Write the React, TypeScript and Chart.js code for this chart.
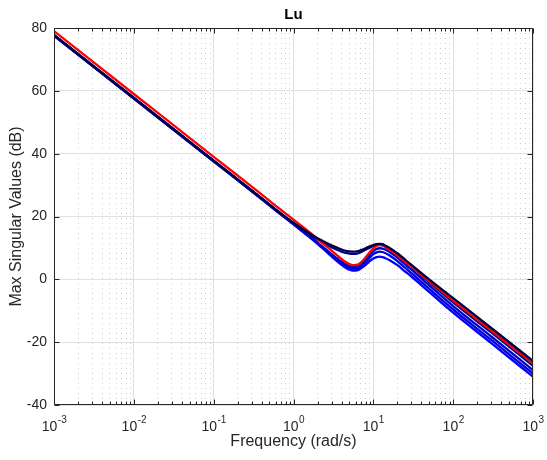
import React, { useEffect, useRef } from "react";
import { Chart, registerables } from "chart.js";

Chart.register(...registerables);

// ---------- data ----------
const FREQS = [0.001, 0.01, 0.1, 0.3, 0.6, 1, 1.5, 2, 2.5, 3, 3.5, 4, 4.5, 5, 5.5, 6, 6.5, 7, 8, 9, 10, 11, 12, 13, 14, 16, 18, 20, 25, 30, 50, 100, 300, 1000];

const NAVY = [77.7, 57.7, 37.7, 28.2, 22.2, 18.0, 15.0, 13.1, 11.8, 10.8, 10.1, 9.5, 9.1, 8.9, 8.8, 8.8, 9.0, 9.3, 9.9, 10.5, 10.9, 11.2, 11.3, 11.2, 10.8, 10.0, 9.1, 8.3, 6.3, 4.6, 0.0, -6.0, -15.5, -26.0];
const RED = [79.0, 59.0, 39.0, 29.5, 23.4, 19.0, 15.5, 12.9, 10.8, 9.1, 7.7, 6.5, 5.5, 4.9, 4.5, 4.5, 4.8, 5.4, 7.0, 8.6, 9.9, 10.7, 11.0, 10.9, 10.3, 9.4, 8.5, 7.6, 5.6, 4.1, -0.6, -6.8, -16.3, -26.8];
const DARKBLUE = [77.8, 57.8, 37.8, 28.3, 22.2, 17.9, 14.8, 12.7, 11.3, 10.2, 9.4, 8.8, 8.4, 8.2, 8.1, 8.1, 8.3, 8.7, 9.4, 10.1, 10.6, 10.9, 10.9, 10.8, 10.5, 9.7, 8.8, 7.9, 5.8, 4.1, -0.9, -7.3, -16.9, -27.5];
const BLUE_A = [77.7, 57.7, 37.7, 28.2, 22.1, 17.7, 14.2, 11.7, 9.7, 8.0, 6.7, 5.6, 4.7, 4.2, 3.9, 3.9, 4.2, 4.8, 6.3, 7.8, 9.0, 9.7, 9.9, 9.8, 9.5, 8.7, 7.8, 6.9, 4.8, 3.1, -1.9, -8.5, -18.2, -28.9];
const BLUE_B = [77.6, 57.6, 37.6, 28.1, 22.0, 17.6, 14.0, 11.5, 9.4, 7.6, 6.2, 5.1, 4.2, 3.6, 3.3, 3.3, 3.6, 4.1, 5.5, 6.9, 8.0, 8.6, 8.8, 8.7, 8.4, 7.6, 6.7, 5.8, 3.7, 2.0, -3.0, -9.6, -19.3, -30.0];
const BLUE_C = [77.5, 57.5, 37.5, 28.0, 21.9, 17.5, 13.9, 11.3, 9.1, 7.3, 5.8, 4.6, 3.7, 3.1, 2.8, 2.8, 3.0, 3.5, 4.6, 5.8, 6.6, 7.1, 7.2, 7.1, 6.8, 6.1, 5.3, 4.5, 2.5, 0.9, -4.0, -10.6, -20.3, -31.0];

const X_DECADES = [0.001, 0.01, 0.1, 1, 10, 100, 1000];
const X_TICK_BASE = "10";
const X_TICK_EXPONENTS = ["-3", "-2", "-1", "0", "1", "2", "3"];
const X_MINOR_MULTIPLIERS = [2, 3, 4, 5, 6, 7, 8, 9];
const Y_MIN = -40;
const Y_MAX = 80;
const Y_STEP = 20;

const TITLE = "Lu";
const X_LABEL = "Frequency (rad/s)";
const Y_LABEL = "Max Singular Values (dB)";

const FONT = "'Liberation Sans', Arial, Helvetica, sans-serif";
const AXIS_COLOR = "#262626";
const MAJOR_GRID = "#e0e0e0";
const MINOR_GRID = "#cdcdcd";

const isDecade = (v: number) => Math.abs(Math.log10(v) - Math.round(Math.log10(v))) < 1e-9;

const matlabAxes = {
  id: "matlabAxes",
  afterDatasetsDraw(chart: any) {
    const { ctx, chartArea } = chart;
    const { left, right, top, bottom } = chartArea;
    const xs = chart.scales.x;
    const ys = chart.scales.y;
    const L = Math.round(left) + 0.5;
    const R = Math.round(right) - 0.5;
    const T = Math.round(top) + 0.5;
    const B = Math.round(bottom) - 0.5;
    ctx.save();
    ctx.strokeStyle = AXIS_COLOR;
    ctx.lineWidth = 1;
    ctx.beginPath();
    ctx.rect(L, T, R - L, B - T);
    ctx.stroke();

    ctx.beginPath();
    xs.ticks.forEach((t: any) => {
      const px = Math.round(xs.getPixelForValue(t.value)) + 0.5;
      const len = isDecade(t.value) ? 5 : 3;
      ctx.moveTo(px, B);
      ctx.lineTo(px, B - len);
      ctx.moveTo(px, T);
      ctx.lineTo(px, T + len);
    });
    ys.ticks.forEach((t: any) => {
      const py = Math.round(ys.getPixelForValue(t.value)) + 0.5;
      ctx.moveTo(L, py);
      ctx.lineTo(L + 5, py);
      ctx.moveTo(R, py);
      ctx.lineTo(R - 5, py);
    });
    ctx.stroke();

    ctx.fillStyle = AXIS_COLOR;
    ctx.textBaseline = "alphabetic";
    ctx.textAlign = "left";
    X_DECADES.forEach((v, i) => {
      const px = xs.getPixelForValue(v);
      ctx.font = `14px ${FONT}`;
      const wb = ctx.measureText(X_TICK_BASE).width;
      ctx.font = `10px ${FONT}`;
      const we = ctx.measureText(X_TICK_EXPONENTS[i]).width;
      const x0 = px - (wb + we) / 2;
      ctx.font = `14px ${FONT}`;
      ctx.fillText(X_TICK_BASE, x0, 431);
      ctx.font = `10px ${FONT}`;
      ctx.fillText(X_TICK_EXPONENTS[i], x0 + wb + 0.5, 423);
    });

    ctx.font = `bold 15px ${FONT}`;
    ctx.textAlign = "center";
    ctx.fillStyle = "#000000";
    ctx.fillText(TITLE, (left + right) / 2, 19);
    ctx.restore();
  },
};

const mkData = (vals: number[]) => FREQS.map((f, i) => ({ x: f, y: vals[i] }));

export default function App() {
  const ref = useRef<HTMLCanvasElement>(null);
  useEffect(() => {
    const series = [
      { label: "navy", vals: NAVY, color: "#000045", order: 0 },
      { label: "red", vals: RED, color: "#ff0000", order: 1 },
      { label: "darkblue", vals: DARKBLUE, color: "#00008f", order: 2 },
      { label: "blueA", vals: BLUE_A, color: "#0000c8", order: 3 },
      { label: "blueB", vals: BLUE_B, color: "#0000e0", order: 4 },
      { label: "blueC", vals: BLUE_C, color: "#0000ff", order: 5 },
    ];
    const chart = new Chart(ref.current as HTMLCanvasElement, {
      type: "line",
      data: {
        datasets: series.map((s) => ({
          label: s.label,
          data: mkData(s.vals),
          borderColor: s.color,
          backgroundColor: s.color,
          borderWidth: 2.3,
          pointRadius: 0,
          cubicInterpolationMode: "monotone",
          fill: false,
          order: s.order,
        })),
      },
      options: {
        animation: false,
        responsive: false,
        devicePixelRatio: 1,
        layout: { padding: { top: 28, right: 14, bottom: 0, left: 0 } },
        plugins: {
          legend: { display: false },
          tooltip: { enabled: false },
          title: { display: false },
        },
        scales: {
          x: {
            type: "logarithmic",
            min: 0.001,
            max: 1000,
            afterBuildTicks: (scale: any) => {
              const ticks: any[] = [];
              X_DECADES.forEach((d, i) => {
                ticks.push({ value: d, major: true });
                if (i < X_DECADES.length - 1) {
                  X_MINOR_MULTIPLIERS.forEach((m) => ticks.push({ value: +(d * m).toPrecision(6), major: false }));
                }
              });
              scale.ticks = ticks;
            },
            afterFit: (scale: any) => {
              scale.height = 55;
            },
            ticks: { display: false, autoSkip: false },
            grid: {
              drawTicks: false,
              color: (ctx: any) => (ctx.tick && isDecade(ctx.tick.value) ? MAJOR_GRID : MINOR_GRID),
              lineWidth: 1,
            },
            border: {
              display: false,
              dash: (ctx: any) => (ctx.tick && isDecade(ctx.tick.value) ? [] : [1, 4]),
            },
            title: {
              display: true,
              text: X_LABEL,
              color: AXIS_COLOR,
              font: { family: FONT, size: 16 },
              padding: { top: 0, bottom: 8.5 },
            },
          },
          y: {
            type: "linear",
            min: Y_MIN,
            max: Y_MAX,
            afterFit: (scale: any) => {
              scale.width = 54;
            },
            ticks: {
              stepSize: Y_STEP,
              color: AXIS_COLOR,
              font: { family: FONT, size: 14 },
              padding: 7,
            },
            grid: { drawTicks: false, color: MAJOR_GRID, lineWidth: 1 },
            border: { display: false },
            title: {
              display: true,
              text: Y_LABEL,
              color: AXIS_COLOR,
              font: { family: FONT, size: 16 },
              padding: { top: 7.4, bottom: 0 },
            },
          },
        },
      },
      plugins: [matlabAxes],
    } as any);
    return () => chart.destroy();
  }, []);

  return (
    <div style={{ position: "fixed", left: 0, top: 0, width: 547, height: 460, background: "#ffffff" }}>
      <canvas ref={ref} width={547} height={460} style={{ display: "block", width: 547, height: 460 }} />
    </div>
  );
}
